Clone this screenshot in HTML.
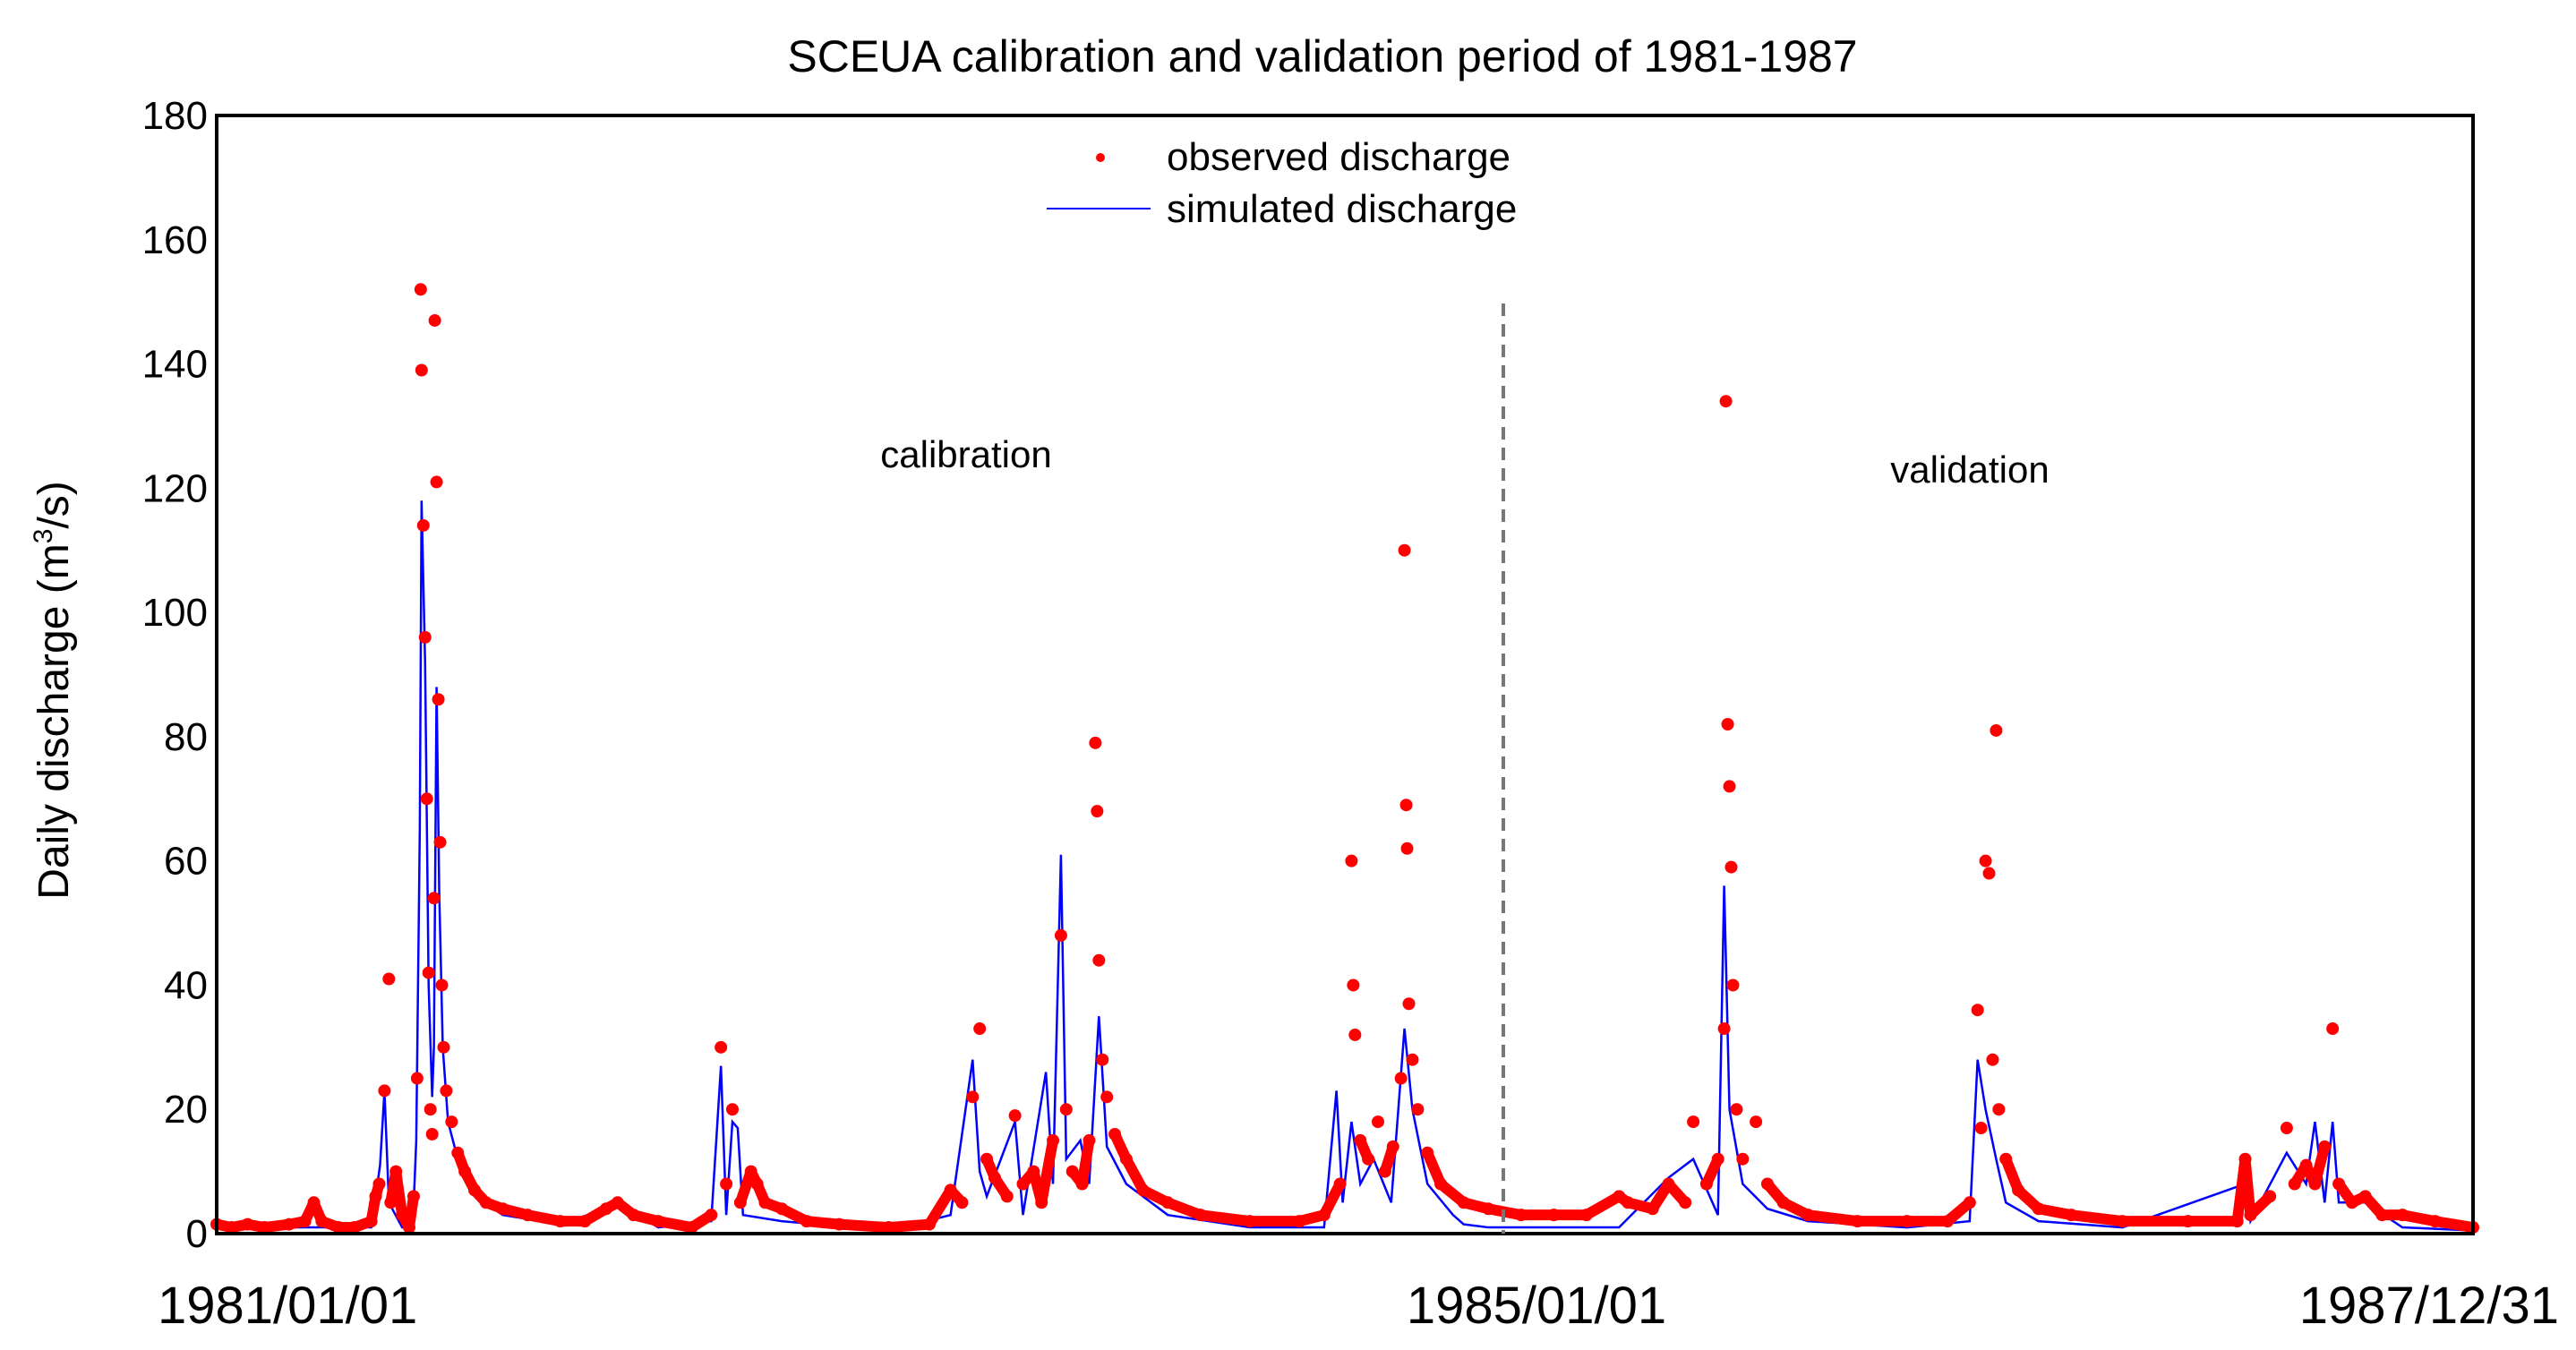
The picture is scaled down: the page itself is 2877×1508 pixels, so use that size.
<!DOCTYPE html>
<html><head><meta charset="utf-8"><style>
html,body{margin:0;padding:0;background:#fff}
svg{display:block}
text{font-family:"Liberation Sans",Arial,sans-serif}
</style></head><body>
<svg id="chart" width="2877" height="1508" viewBox="0 0 2877 1508" xmlns="http://www.w3.org/2000/svg">
<rect width="2877" height="1508" fill="#fff"/>
<text x="1477" y="80" font-size="50" text-anchor="middle" fill="#000">SCEUA calibration and validation period of 1981-1987</text>
<g id="yticks"></g>
<text transform="translate(76,771) rotate(-90)" font-size="48" text-anchor="middle" fill="#000">Daily discharge (m<tspan dy="-18" font-size="30">3</tspan><tspan dy="18">/s)</tspan></text>
<g id="xticks"></g>
<g id="plot"></g>
<rect x="242" y="129" width="2520" height="1249" fill="none" stroke="#000" stroke-width="4"/>
<line x1="1679" y1="339" x2="1679" y2="1378" stroke="#777" stroke-width="4" stroke-dasharray="14,9"/>
<text x="1079" y="522" font-size="42" text-anchor="middle">calibration</text>
<text x="2200" y="539" font-size="42" text-anchor="middle">validation</text>
<g>
<circle cx="1229" cy="176" r="5" fill="#f00"/>
<text x="1303" y="190" font-size="44">observed discharge</text>
<line x1="1169" y1="233" x2="1285" y2="233" stroke="#00f" stroke-width="2"/>
<text x="1303" y="248" font-size="44">simulated discharge</text>
</g>
</svg>
<script>
const yTicks=[0,20,40,60,80,100,120,140,160,180];
const xTickDays=[0,1461,2555];
const xTickLabels=["1981/01/01","1985/01/01","1987/12/31"];
const obsDays=[0,17,35,54,82,100,110,119,138,156,175,180,184,190,195,197,203,210,218,223,227,231,232,234,236,238,240,242,244,246,247,249,251,253,255,257,260,266,273,281,292,305,324,352,389,417,441,454,472,500,538,560,571,577,584,593,605,612,621,640,668,705,761,807,831,844,856,864,872,881,895,904,913,925,934,947,956,962,969,980,988,995,997,999,1003,1008,1017,1030,1049,1077,1114,1170,1226,1254,1272,1285,1287,1289,1295,1304,1315,1323,1332,1341,1345,1347,1348,1350,1354,1360,1371,1386,1412,1440,1477,1514,1551,1588,1598,1626,1644,1663,1672,1687,1700,1707,1709,1711,1713,1715,1717,1721,1728,1743,1756,1774,1802,1858,1914,1960,1985,1994,1998,2003,2007,2011,2015,2018,2026,2040,2063,2100,2158,2232,2288,2297,2303,2325,2344,2353,2366,2376,2387,2396,2403,2418,2433,2452,2475,2512,2555];
const obsVals=[1.5,1,1.5,1,1.5,2,5,2,1,1,2,6,8,23,41,5,10,3,1,6,25,152,139,114,96,70,42,20,16,54,147,121,86,63,40,30,23,18,13,10,7,5,4,3,2,2,4,5,3,2,1,3,30,8,20,5,10,8,5,4,2,1.5,1,1.5,7,5,22,33,12,9,6,19,8,10,5,15,48,20,10,8,15,79,68,44,28,22,16,12,7,5,3,2,2,3,8,60,40,32,15,12,18,10,14,25,110,69,62,37,28,20,13,8,5,4,3,3,3,6,5,4,8,5,18,8,12,33,134,82,72,59,40,20,12,18,8,5,3,2,2,2,5,36,17,60,58,28,81,20,12,7,4,3,2,2,2,12,3,6,17,8,11,8,14,33,8,5,6,3,3,2,1];
const simDays=[0,100,175,185,190,195,210,222,226,230,232,236,240,244,246,249,252,256,262,273,292,324,389,441,454,500,560,571,577,584,590,596,640,761,831,856,864,872,904,913,939,947,956,962,978,988,999,1008,1030,1077,1170,1254,1268,1275,1285,1295,1310,1330,1345,1354,1371,1400,1412,1440,1588,1644,1672,1700,1707,1713,1728,1756,1802,1914,1985,1994,2003,2015,2026,2063,2158,2297,2303,2344,2366,2376,2387,2396,2403,2433,2475,2555];
const simVals=[1,1,1,11,23,5,1,1,15,65,118,92,40,22,30,88,55,30,18,12,6,3,1.5,4,5,1,2,27,3,18,17,3,2,0.5,3,28,10,6,18,3,26,8,61,12,15,8,35,14,8,3,1,1,23,5,18,8,12,5,33,20,8,3,1.5,1,1,9,12,3,56,20,8,4,2,1,2,28,20,12,5,2,1,8,2,13,8,18,5,18,5,5,1,0.5];

const NS="http://www.w3.org/2000/svg";
const X0=242,X1=2762,Y0=1378,Y1=129,DMAX=2555,VMAX=180,BAND=16;
function xs(d){return X0+d/DMAX*(X1-X0);}
function ys(v){return Y0-v/VMAX*(Y0-Y1);}
function mk(tag,attrs,parent){const e=document.createElementNS(NS,tag);for(const k in attrs)e.setAttribute(k,attrs[k]);parent.appendChild(e);return e;}
const yg=document.getElementById('yticks'),xg=document.getElementById('xticks'),pg=document.getElementById('plot');
yTicks.forEach(v=>{
  const t=mk('text',{x:232,y:ys(v)+15,'font-size':44,'text-anchor':'end'},yg);
  
  
  t.textContent=v;
});
xTickDays.forEach((d,i)=>{
  let x=xs(d);
  const anchor=i===0?'start':(i===2?'end':'middle');
  if(i===0)x=176; if(i===2)x=2858; if(i===1)x=1716;
  const t=mk('text',{x:x,y:1478,'font-size':58,'text-anchor':anchor},xg);
  
  
  t.textContent=xTickLabels[i];
});
const simLine=mk('polyline',{points:simDays.map((d,i)=>xs(d)+','+ys(simVals[i])).join(' '),fill:'none',stroke:'#00f','stroke-width':2.5},pg);


let path='';
for(let i=1;i<obsDays.length;i++){
  if(obsVals[i-1]<=BAND&&obsVals[i]<=BAND){
    path+='M'+xs(obsDays[i-1])+','+ys(obsVals[i-1])+'L'+xs(obsDays[i])+','+ys(obsVals[i]);
  }
}
const band=mk('path',{d:path,fill:'none',stroke:'#f00','stroke-width':12,'stroke-linecap':'round','stroke-linejoin':'round'},pg);


obsDays.forEach((d,i)=>{
  const c=mk('circle',{cx:xs(d),cy:ys(obsVals[i]),r:7,fill:'#f00'},pg);
  
  
});
</script>
</body></html>
